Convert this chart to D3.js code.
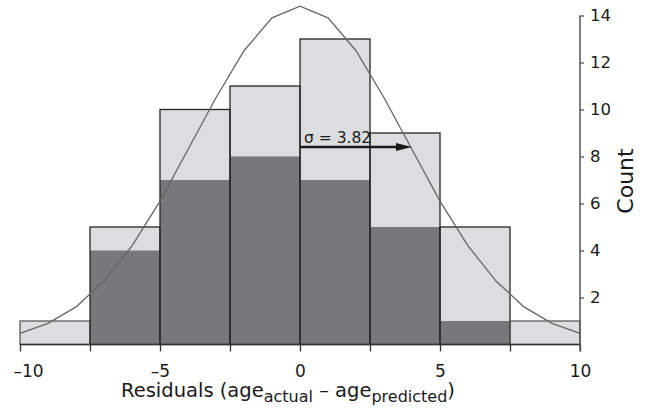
<!DOCTYPE html>
<html>
<head>
<meta charset="utf-8">
<script src="https://cdn.jsdelivr.net/npm/d3@7"></script>
<style>
  body { margin: 0; background: #fff; }
  svg { display: block; font-family: "DejaVu Sans", "Liberation Sans", Arial, sans-serif; }
</style>
</head>
<body>
<div id="chart"></div>
<script>
var WIDTH = 646, HEIGHT = 414;

// histogram bins (left edges, width 2.5)
var binStarts = [-10, -7.5, -5, -2.5, 0, 2.5, 5, 7.5];
var binWidth = 2.5;
var totalCounts = [1, 5, 10, 11, 13, 9, 5, 1];
var darkCounts = [0, 4, 7, 8, 7, 5, 1, 0];

// fitted normal curve
var curveX = [-10, -9, -8, -7, -6, -5, -4, -3, -2, -1, 0, 1, 2, 3, 4, 5, 6, 7, 8, 9, 10];
var curveY = [0.47, 0.9, 1.6, 2.7, 4.2, 6.1, 8.3, 10.5, 12.5, 13.9, 14.4, 13.9, 12.5, 10.5, 8.3, 6.1, 4.2, 2.7, 1.6, 0.9, 0.47];

var sigma = 3.82;
var sigmaY = 8.4;

var xTicks = [-10, -7.5, -5, -2.5, 0, 2.5, 5, 7.5, 10];
var yTicks = [2, 4, 6, 8, 10, 12, 14];

var svg = d3.select("#chart").append("svg")
  .attr("width", WIDTH)
  .attr("height", HEIGHT);

var x = d3.scaleLinear().domain([-10, 10]).range([20, 580]);
var y = d3.scaleLinear().domain([0, 14]).range([344.5, 15.5]);

var bins = binStarts.map(function(d, i) {
  return {x0: d, x1: d + binWidth, total: totalCounts[i], dark: darkCounts[i]};
});

// light bars
svg.append("g").selectAll("rect")
  .data(bins)
  .enter().append("rect")
  .attr("x", function(d) { return x(d.x0); })
  .attr("y", function(d) { return y(d.total); })
  .attr("width", function(d) { return x(d.x1) - x(d.x0); })
  .attr("height", function(d) { return y(0) - y(d.total); })
  .style("fill", "#dcdddf");

// dark bars
svg.append("g").selectAll("rect")
  .data(bins.filter(function(d) { return d.dark > 0; }))
  .enter().append("rect")
  .attr("x", function(d) { return x(d.x0); })
  .attr("y", function(d) { return y(d.dark); })
  .attr("width", function(d) { return x(d.x1) - x(d.x0); })
  .attr("height", function(d) { return y(0) - y(d.dark); })
  .style("fill", "#77787a");

// outlines
svg.append("g").selectAll("rect")
  .data(bins)
  .enter().append("rect")
  .attr("x", function(d) { return x(d.x0); })
  .attr("y", function(d) { return y(d.total); })
  .attr("width", function(d) { return x(d.x1) - x(d.x0); })
  .attr("height", function(d) { return y(0) - y(d.total); })
  .style("fill", "none")
  .style("stroke", function(d) { return d.total > 1 ? "#262626" : "#5a5a5a"; })
  .style("stroke-width", 1.3);

// normal curve
var line = d3.line()
  .x(function(d, i) { return x(curveX[i]); })
  .y(function(d) { return y(d); });

svg.append("path")
  .attr("d", line(curveY))
  .style("fill", "none")
  .style("stroke", "#666")
  .style("stroke-width", 1.3);

// sigma arrow
var tip = x(sigma) + 5;
svg.append("line")
  .attr("x1", x(0)).attr("x2", tip - 10)
  .attr("y1", y(sigmaY)).attr("y2", y(sigmaY))
  .style("stroke", "#1a1a1a")
  .style("stroke-width", 2.5);
svg.append("path")
  .attr("d", "M" + tip + "," + y(sigmaY) + "L" + (tip - 16) + "," + (y(sigmaY) - 4) + "L" + (tip - 16) + "," + (y(sigmaY) + 4) + "Z")
  .style("fill", "#1a1a1a");
svg.append("text")
  .attr("x", x(0) + 4)
  .attr("y", y(sigmaY) - 4)
  .style("font-size", "15.5px")
  .style("fill", "#1a1a1a")
  .text("σ = " + sigma.toFixed(2));

// x axis
var xAxis = svg.append("g")
  .attr("transform", "translate(0," + y(0) + ")")
  .call(d3.axisBottom(x).tickValues(xTicks).tickSize(7).tickPadding(13)
    .tickFormat(function(d) {
      if (d % 5 !== 0) return "";
      return d < 0 ? "\u2013" + Math.abs(d) : String(d);
    }))
  .call(function(g) { g.select(".domain").remove(); });
xAxis.selectAll("line").style("stroke", "#333").style("stroke-width", 1.3);
xAxis.selectAll("text").style("font-size", "17px").style("fill", "#1a1a1a")
  .style("font-family", "'DejaVu Sans', sans-serif");
// first label sits inside the left edge
xAxis.selectAll(".tick text").filter(function(d) { return d === -10; })
  .attr("text-anchor", "start").attr("x", -7);
svg.append("line")
  .attr("x1", x(-10)).attr("x2", x(10))
  .attr("y1", y(0)).attr("y2", y(0))
  .style("stroke", "#333").style("stroke-width", 1.3);

// y axis on right
var yAxis = svg.append("g")
  .attr("transform", "translate(" + x(10) + ",0)")
  .call(d3.axisRight(y).tickValues(yTicks).tickSize(4).tickPadding(6))
  .call(function(g) { g.select(".domain").remove(); });
yAxis.selectAll("line").style("stroke", "#555").style("stroke-width", 1.3);
yAxis.selectAll("text").style("font-size", "16.5px").style("fill", "#1a1a1a")
  .style("font-family", "'DejaVu Sans', sans-serif");
svg.append("line")
  .attr("x1", x(10)).attr("x2", x(10))
  .attr("y1", y(14)).attr("y2", y(0) + 7)
  .style("stroke", "#555").style("stroke-width", 1.5);

// axis titles
var title = svg.append("text")
  .attr("x", 288)
  .attr("y", 397)
  .attr("text-anchor", "middle")
  .style("font-size", "19.5px")
  .style("fill", "#1a1a1a");
title.append("tspan").text("Residuals (age");
title.append("tspan").attr("dy", 5).style("font-size", "16px").text("actual");
title.append("tspan").attr("dy", -5).text(" \u2013 age");
title.append("tspan").attr("dy", 5).style("font-size", "16px").text("predicted");
title.append("tspan").attr("dy", -5).text(")");

svg.append("text")
  .attr("transform", "translate(633,181) rotate(-90)")
  .attr("text-anchor", "middle")
  .style("font-size", "22px")
  .style("fill", "#1a1a1a")
  .text("Count");
</script>
</body>
</html>
